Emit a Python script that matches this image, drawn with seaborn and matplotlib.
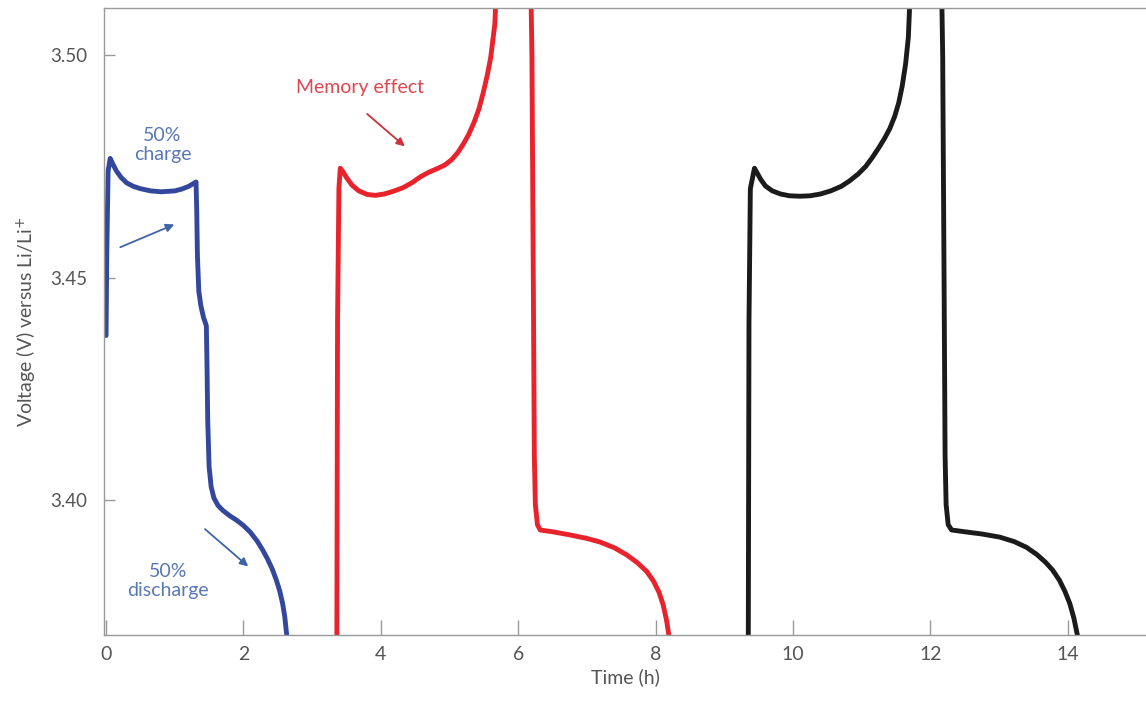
import matplotlib
matplotlib.use("Agg")
import matplotlib.pyplot as plt
import pandas as pd
import seaborn as sns

# voltage traces (time in h, voltage in V)
blue_t = [0.0, 0.01, 0.03, 0.06, 0.10, 0.15, 0.22, 0.3, 0.4, 0.5, 0.65, 0.8, 1.0, 1.1,
          1.2, 1.31, 1.32, 1.33, 1.35, 1.38, 1.42, 1.46, 1.47, 1.48, 1.50, 1.53, 1.57,
          1.63, 1.70, 1.80, 1.90, 2.00, 2.10, 2.20, 2.28, 2.35, 2.42, 2.48, 2.53, 2.57,
          2.60, 2.635]
blue_v = [3.437, 3.455, 3.474, 3.4768, 3.4755, 3.4740, 3.4725, 3.4713, 3.4705, 3.4700,
          3.4695, 3.4693, 3.4695, 3.4699, 3.4705, 3.4715, 3.465, 3.455, 3.4470, 3.4437,
          3.4410, 3.4392, 3.430, 3.418, 3.4075, 3.4030, 3.4005, 3.3988, 3.3977, 3.3965,
          3.3955, 3.3943, 3.3928, 3.3908, 3.3888, 3.3868, 3.3845, 3.3820, 3.3795, 3.3768,
          3.3740, 3.3690]

red_t = [3.36, 3.37, 3.39, 3.41, 3.45, 3.50, 3.58, 3.68, 3.80, 3.92, 4.05, 4.18, 4.32,
         4.45, 4.58, 4.70, 4.82, 4.93, 5.03, 5.12, 5.20, 5.28, 5.36, 5.43, 5.49, 5.55,
         5.60, 5.66, 5.72, 6.17, 6.20, 6.22, 6.235, 6.25, 6.28, 6.32, 6.50, 6.75, 7.00,
         7.19, 7.40, 7.58, 7.73, 7.87, 7.97, 8.05, 8.11, 8.16, 8.20]
red_v = [3.369, 3.440, 3.470, 3.4746, 3.4738, 3.4725, 3.4708, 3.4695, 3.4687, 3.4685,
         3.4688, 3.4694, 3.4702, 3.4713, 3.4727, 3.4737, 3.4745, 3.4753, 3.4765, 3.4781,
         3.4800, 3.4822, 3.4850, 3.4880, 3.4915, 3.4955, 3.4995, 3.5070, 3.53, 3.53,
         3.50, 3.45, 3.41, 3.399, 3.3945, 3.3933, 3.3929, 3.3922, 3.3914, 3.3906,
         3.3893, 3.3877, 3.3860, 3.3840, 3.3818, 3.3793, 3.3765, 3.3730, 3.3690]

black_t = [9.35, 9.36, 9.38, 9.44, 9.48, 9.53, 9.60, 9.70, 9.82, 9.95, 10.10, 10.25,
           10.40, 10.55, 10.70, 10.82, 10.95, 11.06, 11.16, 11.25, 11.33, 11.41, 11.48,
           11.54, 11.59, 11.64, 11.68, 11.75, 12.15, 12.18, 12.20, 12.215, 12.23, 12.26,
           12.31, 12.50, 12.75, 13.01, 13.22, 13.40, 13.55, 13.68, 13.78, 13.88, 13.96,
           14.03, 14.09, 14.15]
black_v = [3.369, 3.440, 3.470, 3.4746, 3.4735, 3.4721, 3.4706, 3.4695, 3.4688, 3.4684,
           3.4683, 3.4684, 3.4688, 3.4695, 3.4705, 3.4717, 3.4733, 3.4750, 3.4771,
           3.4792, 3.4812, 3.4835, 3.4862, 3.4893, 3.4930, 3.4980, 3.5040, 3.53, 3.53,
           3.50, 3.45, 3.41, 3.399, 3.3945, 3.3933, 3.3929, 3.3924, 3.3917, 3.3907,
           3.3894, 3.3878, 3.3860, 3.3843, 3.3820, 3.3795, 3.3768, 3.3735, 3.3690]

x_ticks = [0, 2, 4, 6, 8, 10, 12, 14]
y_ticks = [3.40, 3.45, 3.50]

colors = {"first": "#33479c", "second": "#e8232b", "third": "#1b1b1b"}

df = pd.concat([
    pd.DataFrame({"Time": blue_t, "Voltage": blue_v, "run": "first"}),
    pd.DataFrame({"Time": red_t, "Voltage": red_v, "run": "second"}),
    pd.DataFrame({"Time": black_t, "Voltage": black_v, "run": "third"}),
])

sns.set_style("white")
plt.rcParams["font.family"] = ["Lato", "DejaVu Sans"]

fig = plt.figure(figsize=(11.46, 7.04), dpi=100)
ax = fig.add_axes([104 / 1146, 69 / 704, 1042 / 1146, 627 / 704])

for run, grp in df.groupby("run"):
    sns.lineplot(data=grp, x="Time", y="Voltage", sort=False, estimator=None,
                 color=colors[run], linewidth=3.5, ax=ax, legend=False)

ax.set_xlim(-0.03, 15.14)
ax.set_ylim(3.3697, 3.5106)
ax.set_xticks(x_ticks)
ax.set_xticklabels([str(t) for t in x_ticks])
ax.set_yticks(y_ticks)
ax.set_yticklabels([f"{v:.2f}" for v in y_ticks])
ax.tick_params(axis="both", direction="in", colors="#999999", labelcolor="#555555",
               labelsize=14, width=1, bottom=True, left=True)
ax.tick_params(axis="x", length=11, pad=8)
ax.tick_params(axis="y", length=8, pad=12, labelsize=13.5)
for side in ["left", "bottom", "top"]:
    ax.spines[side].set_color("#999999")
    ax.spines[side].set_linewidth(1)
ax.spines["right"].set_visible(False)

ax.set_xlabel("Time (h)", fontsize=14, color="#555555", labelpad=4)
ax.set_ylabel("Voltage (V) versus Li/Li$^{+}$", fontsize=14, color="#555555", labelpad=8)

blue_txt = "#5a78b4"
red_txt = "#e04650"
ax.text(0.82, 3.4798, "50%\ncharge", ha="center", va="center", fontsize=14,
        color=blue_txt, linespacing=1.1)
ax.text(0.9, 3.3818, "50%\ndischarge", ha="center", va="center", fontsize=14,
        color=blue_txt, linespacing=1.1)
ax.text(3.70, 3.4928, "Memory effect", ha="center", va="center", fontsize=14,
        color=red_txt)

arrow = dict(arrowstyle="-|>", lw=1.3, mutation_scale=12)
ax.annotate("", xy=(1.03, 3.4622), xytext=(0.17, 3.4566),
            arrowprops=dict(arrow, color="#3f63a8"))
ax.annotate("", xy=(2.10, 3.3847), xytext=(1.41, 3.3939),
            arrowprops=dict(arrow, color="#3f63a8"))
ax.annotate("", xy=(4.38, 3.4791), xytext=(3.77, 3.4872),
            arrowprops=dict(arrow, color="#d0303a"))

fig.savefig("out.png", dpi=100)
